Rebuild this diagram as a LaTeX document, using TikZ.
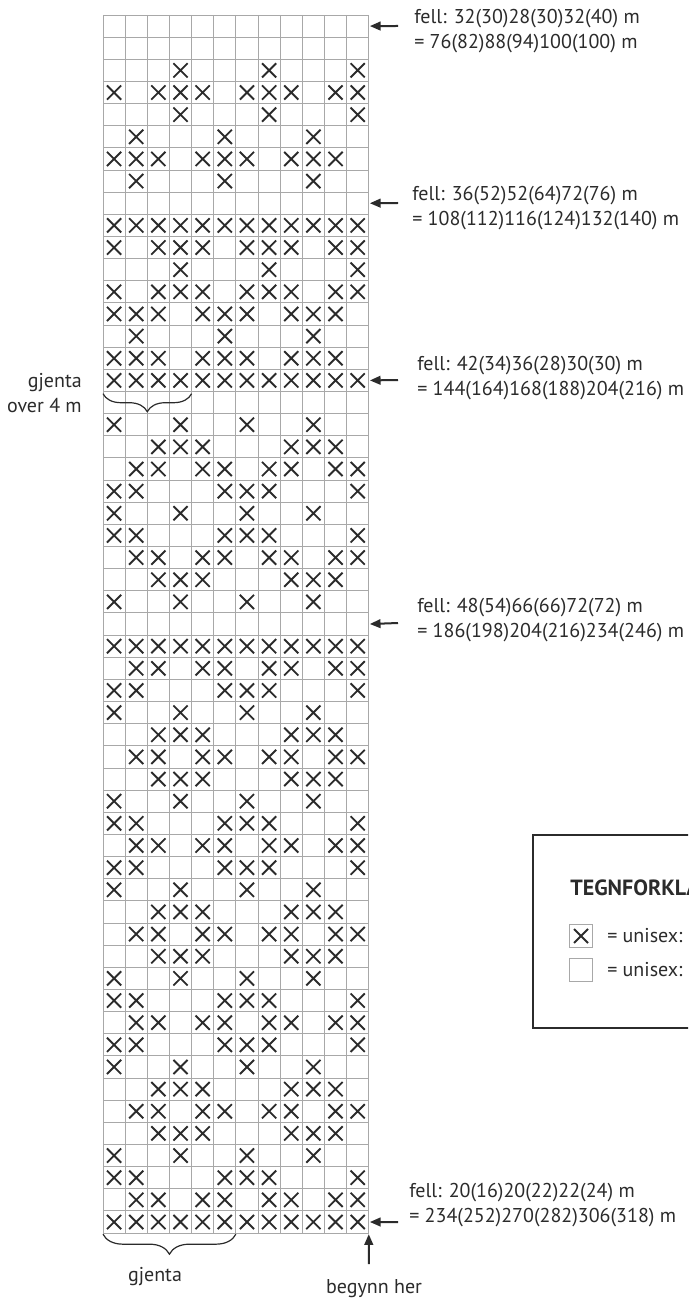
\documentclass[tikz,border=0pt]{standalone}
\usepackage{fontspec}
\setmainfont{PT Sans}
\usepackage{tikz}
\usetikzlibrary{arrows.meta,decorations.pathreplacing,positioning}
\definecolor{ChartInk}{HTML}{2B2B2B}
\definecolor{ChartGrid}{HTML}{A8A8A8}

\begin{document}
\begin{tikzpicture}[
	x=0.75pt, y=-0.75pt,
	font=\fontsize{15}{18.75}\selectfont,
	note/.style={anchor=west, align=left, inner sep=0pt, text=ChartInk},
	pointer/.style={-{Triangle[length=8pt,width=6.5pt]}, line width=1.5pt, ChartInk},
	gridline/.style={ChartGrid, line width=0.7pt},
	stitch/.style={ChartInk, line width=1.4pt},
	brace/.style={decorate, decoration={brace, amplitude=#1}, ChartInk, line width=0.9pt},
	keybox/.style={draw=ChartGrid, line width=0.7pt, minimum size=17pt, inner sep=0pt}
]
\useasboundingbox (0,0) rectangle (688,1301);
\clip (0,0) rectangle (688,1301);

% chart, one unit = one stitch
\begin{scope}[shift={(103,15)}, x=16.61pt, y=-16.61pt]
	\foreach \c in {0,...,12} \draw[gridline] (\c,0) -- (\c,55);
	\foreach \r in {0,...,55} \draw[gridline] (0,\r) -- (12,\r);
	\foreach \r/\cs in {
		3/{4,8,12}, 4/{1,3,4,5,7,8,9,11,12}, 5/{4,8,12}, 6/{2,6,10},
		7/{1,2,3,5,6,7,9,10,11}, 8/{2,6,10},
		10/{1,...,12}, 11/{1,3,4,5,7,8,9,11,12}, 12/{4,8,12}, 13/{1,3,4,5,7,8,9,11,12},
		14/{1,2,3,5,6,7,9,10,11}, 15/{2,6,10}, 16/{1,2,3,5,6,7,9,10,11}, 17/{1,...,12},
		19/{1,4,7,10}, 20/{3,4,5,9,10,11}, 21/{2,3,5,6,8,9,11,12}, 22/{1,2,6,7,8,12},
		23/{1,4,7,10}, 24/{1,2,6,7,8,12}, 25/{2,3,5,6,8,9,11,12}, 26/{3,4,5,9,10,11},
		27/{1,4,7,10},
		29/{1,...,12}, 30/{2,3,5,6,8,9,11,12}, 31/{1,2,6,7,8,12}, 32/{1,4,7,10},
		33/{3,4,5,9,10,11}, 34/{2,3,5,6,8,9,11,12}, 35/{3,4,5,9,10,11}, 36/{1,4,7,10},
		37/{1,2,6,7,8,12}, 38/{2,3,5,6,8,9,11,12}, 39/{1,2,6,7,8,12}, 40/{1,4,7,10},
		41/{3,4,5,9,10,11}, 42/{2,3,5,6,8,9,11,12}, 43/{3,4,5,9,10,11}, 44/{1,4,7,10},
		45/{1,2,6,7,8,12}, 46/{2,3,5,6,8,9,11,12}, 47/{1,2,6,7,8,12}, 48/{1,4,7,10},
		49/{3,4,5,9,10,11}, 50/{2,3,5,6,8,9,11,12}, 51/{3,4,5,9,10,11}, 52/{1,4,7,10},
		53/{1,2,6,7,8,12}, 54/{2,3,5,6,8,9,11,12}, 55/{1,...,12}}
		\foreach \c in \cs
			\draw[stitch] (\c-0.82,\r-0.82) -- (\c-0.18,\r-0.18)
				(\c-0.82,\r-0.18) -- (\c-0.18,\r-0.82);
	% arrow tips on the chart edge
	\coordinate (tipA) at (12.05,0.5);
	\coordinate (tipB) at (12.05,8.5);
	\coordinate (tipC) at (12.05,16.5);
	\coordinate (tipD) at (12.05,27.5);
	\coordinate (tipE) at (12.05,54.5);
	\coordinate (tipStart) at (12,55.05);
	\draw[brace=13.5pt] (4,17.1) -- (0,17.1);
	\draw[brace=15pt] (6,55.05) -- (0,55.05);
\end{scope}

% decrease notes
\node[note] (fellA) at (414,31) {fell: 32(30)28(30)32(40) m\\= 76(82)88(94)100(100) m};
\node[note] (fellB) at (412,208) {fell: 36(52)52(64)72(76) m\\= 108(112)116(124)132(140) m};
\node[note] (fellC) at (417,378) {fell: 42(34)36(28)30(30) m\\= 144(164)168(188)204(216) m};
\node[note] (fellD) at (417,620) {fell: 48(54)66(66)72(72) m\\= 186(198)204(216)234(246) m};
\node[note] (fellE) at (409,1205) {fell: 20(16)20(22)22(24) m\\= 234(252)270(282)306(318) m};
\coordinate (tailA) at (398,26);
\coordinate (tailB) at (398,203);
\coordinate (tailC) at (398,380);
\coordinate (tailD) at (398,623);
\coordinate (tailE) at (398,1222);
\foreach \k in {A,B,C,D,E}
	\draw[pointer] (tail\k) -- (tip\k);

% repeat and start labels
\node[anchor=east, align=right, inner sep=0pt, text=ChartInk] (repeatFour) at (82,393) {gjenta\\over 4 m};
\node[text=ChartInk, inner sep=0pt] (repeatSix) at (155,1277) {gjenta};
\node[text=ChartInk, inner sep=0pt] (startHere) at (374,1289) {begynn her};
\coordinate (startTail) at (368.8,1264);
\draw[pointer] (startTail) -- (tipStart);

% legend
\draw[ChartInk, line width=1.6pt] (533,835) rectangle (720,1028);
\node[note, font=\fontsize{16.5}{18.75}\selectfont\bfseries] (legendTitle) at (570,888) {TEGNFORKLARING};
\node[keybox] (keyCross) at (581,936) {};
\draw[stitch] ([shift={(-7,-7)}]keyCross.center) -- ([shift={(7,7)}]keyCross.center)
	([shift={(-7,7)}]keyCross.center) -- ([shift={(7,-7)}]keyCross.center);
\node[note] (keyCrossText) at (607,936) {= unisex:};
\node[keybox] (keyBlank) at (581,970) {};
\node[note] (keyBlankText) at (607,970) {= unisex:};
\end{tikzpicture}
\end{document}
